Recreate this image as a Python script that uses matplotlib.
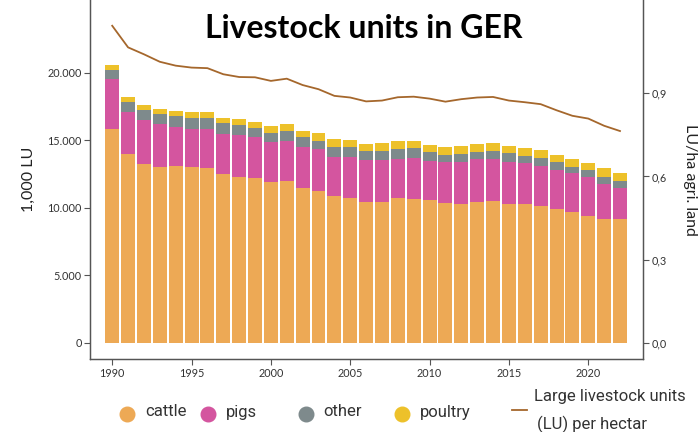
import matplotlib
matplotlib.use("Agg")
import matplotlib.pyplot as plt
from matplotlib.lines import Line2D

years = list(range(1990, 2023))
cattle = [15835, 13960, 13264, 13019, 13071, 13019, 12945, 12501, 12279, 12204,
          11908, 11982, 11463, 11241, 10893, 10722, 10448, 10404, 10700, 10670,
          10552, 10352, 10278, 10426, 10500, 10293, 10278, 10152, 9907, 9663,
          9400, 9200, 9166]
pigs = [3705, 3113, 3238, 3164, 2913, 2816, 2867, 2986, 3112, 3016,
        2964, 2964, 3016, 3090, 2890, 3061, 3090, 3134, 2934, 2994,
        2934, 3016, 3134, 3164, 3112, 3119, 3016, 2964, 2890, 2890,
        2901, 2537, 2274]
other = [667, 786, 741, 742, 815, 838, 838, 771, 741, 712,
         689, 741, 741, 637, 718, 718, 667, 689, 741, 763,
         623, 541, 571, 563, 615, 622, 541, 593, 571, 489,
         496, 564, 564]
poultry = [371, 370, 347, 392, 392, 400, 445, 415, 422, 444,
           497, 496, 490, 548, 571, 497, 541, 571, 571, 519,
           541, 570, 592, 571, 548, 541, 570, 592, 563, 570,
           541, 622, 593]
lu_per_ha = [1.144, 1.066, 1.041, 1.014, 1.000, 0.993, 0.991, 0.969, 0.959, 0.958,
             0.945, 0.953, 0.930, 0.915, 0.891, 0.885, 0.871, 0.874, 0.886, 0.888,
             0.881, 0.870, 0.879, 0.885, 0.887, 0.874, 0.868, 0.861, 0.839, 0.819,
             0.809, 0.783, 0.764]

left_ticks = [0, 5000, 10000, 15000, 20000]
left_labels = ["0", "5.000", "10.000", "15.000", "20.000"]
right_ticks = [0.0, 0.3, 0.6, 0.9]
right_labels = ["0,0", "0,3", "0,6", "0,9"]
x_ticks = [1990, 1995, 2000, 2005, 2010, 2015, 2020]

series_names = ["cattle", "pigs", "other", "poultry"]
colors = {"cattle": "#EDA955", "pigs": "#D4559F", "other": "#7E8A8C", "poultry": "#EDC12A"}
line_color = "#A5672C"

W, H = 698, 432
fig = plt.figure(figsize=(W / 100, H / 100), dpi=100)
ax = fig.add_axes([90 / W, 1 - 359.3 / H, (643 - 90) / W, 359.3 / H])

bottom = [0] * len(years)
for name, vals in zip(series_names, [cattle, pigs, other, poultry]):
    ax.bar(years, vals, bottom=bottom, width=0.88, color=colors[name], linewidth=0)
    bottom = [b + v for b, v in zip(bottom, vals)]

ax.set_xlim(1988.6, 2023.45)
ax.set_ylim(-1230, 25394)
ax.set_yticks(left_ticks)
ax.set_yticklabels(left_labels)
ax.set_xticks(x_ticks)
ax.set_xticklabels([str(t) for t in x_ticks])

ax2 = ax.twinx()
ax2.plot(years, lu_per_ha, color=line_color, linewidth=1.3)
ax2.set_ylim(-0.06, 1.237)
ax2.set_yticks(right_ticks)
ax2.set_yticklabels(right_labels)

for a in (ax, ax2):
    for s in a.spines.values():
        s.set_color("#555555")
        s.set_linewidth(0.9)
    a.spines["top"].set_visible(False)
    a.tick_params(length=4, width=0.8, color="#555555", labelsize=7.8,
                  labelcolor="#333333", pad=2)
    for lab in a.get_xticklabels() + a.get_yticklabels():
        lab.set_fontfamily("Lato")

ax.set_ylabel("1,000 LU", fontsize=11.5, family="Lato", color="#222222", labelpad=8)
ax2.set_ylabel("LU/ha agri. land", fontsize=11.5, family="Lato", color="#222222",
               rotation=270, labelpad=22)

fig.text(363.5 / W, 1 - 29 / H, "Livestock units in GER", ha="center", va="center",
         fontsize=23, fontweight="bold", family="Lato", color="black")

# legend
leg_items = [(126.8, "cattle"), (208, "pigs"), (305.7, "other"), (401.5, "poultry")]
for xc, name in leg_items:
    fig.add_artist(Line2D([xc / W], [1 - 414 / H], transform=fig.transFigure,
                          marker="o", markersize=10.5, color=colors[name], linestyle="none"))
    fig.text((xc + 18) / W, 1 - 412 / H, name, ha="left", va="center",
             fontsize=12, family="Roboto", color="#333333")
fig.add_artist(Line2D([512 / W, 527 / W], [1 - 410 / H, 1 - 410 / H],
                      transform=fig.transFigure, color=line_color, linewidth=1.3))
fig.text(534 / W, 1 - 397 / H, "Large livestock units", ha="left", va="center",
         fontsize=12, family="Roboto", color="#333333")
fig.text(537 / W, 1 - 424 / H, "(LU) per hectar", ha="left", va="center",
         fontsize=12, family="Roboto", color="#333333")

fig.savefig("out.png", dpi=100)
